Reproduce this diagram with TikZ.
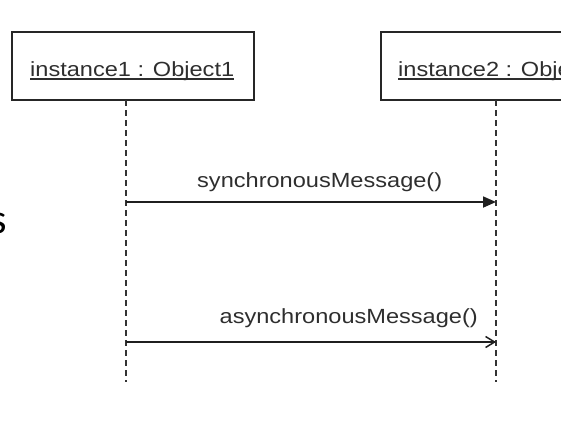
\documentclass[tikz,border=0pt]{standalone}
\usepackage{fontspec}
\setmainfont{Liberation Sans}
\newfontfamily\calibrifont{Carlito}
\usepackage{graphicx}
\usetikzlibrary{arrows.meta}
\begin{document}
\begin{tikzpicture}[x=1pt,y=-1pt,
  objbox/.style={draw=black!85, line width=2pt, minimum width=242pt, minimum height=68pt, inner sep=0pt},
  lbl/.style={inner sep=0pt, text=black!82, font=\fontsize{20.5}{24}\selectfont},
  lifeline/.style={line width=2pt, dash pattern=on 6pt off 4pt, black!80},
  msg/.style={line width=1.8pt, black!88},
  uline/.style={line width=1.2pt, black!82}
  ]
\useasboundingbox (0,0) rectangle (561,421);
\begin{scope}
\clip (0,0) rectangle (561,421);
% objects
\node[objbox] (obj1) at (133,66) {};
\node[objbox] (obj2) at (502,66) {};
\node[lbl, anchor=base west] (l1) at (30,76) {\scalebox{1.15}[1]{instance1 : Object1}};
\node[lbl, anchor=base west] (l2) at (398,76) {\scalebox{1.15}[1]{instance2 : Object2}};
\draw[uline] ([yshift=-3pt]l1.base west) -- ([yshift=-3pt]l1.base east);
\draw[uline] ([yshift=-3pt]l2.base west) -- ([yshift=-3pt]l2.base east);
% lifelines
\coordinate (t1) at (126,100);
\coordinate (b1) at (126,382);
\coordinate (t2) at (496,100);
\coordinate (b2) at (496,382);
\draw[lifeline] (t1) -- (b1);
\draw[lifeline] (t2) -- (b2);
% messages
\coordinate (m1a) at (126,202);
\coordinate (m1b) at (496,202);
\coordinate (m2a) at (126,342);
\coordinate (m2b) at (496,342);
\draw[msg, -{Triangle[length=13pt,width=11pt]}] (m1a) -- (m1b);
\draw[msg, -{Straight Barb[length=9pt,width=11pt,line width=1.5pt]}] (m2a) -- (m2b);
\node[lbl, anchor=base west] (ml1) at (197,187) {\scalebox{1.15}[1]{synchronousMessage()}};
\node[lbl, anchor=base east] (ml2) at (478,323) {\scalebox{1.15}[1]{asynchronousMessage()}};
% cut-off letter at left edge
\node[inner sep=0pt, anchor=base east, font=\calibrifont\fontsize{42}{48}\selectfont] (frag) at (7.5,233) {s};
\end{scope}
\end{tikzpicture}
\end{document}
